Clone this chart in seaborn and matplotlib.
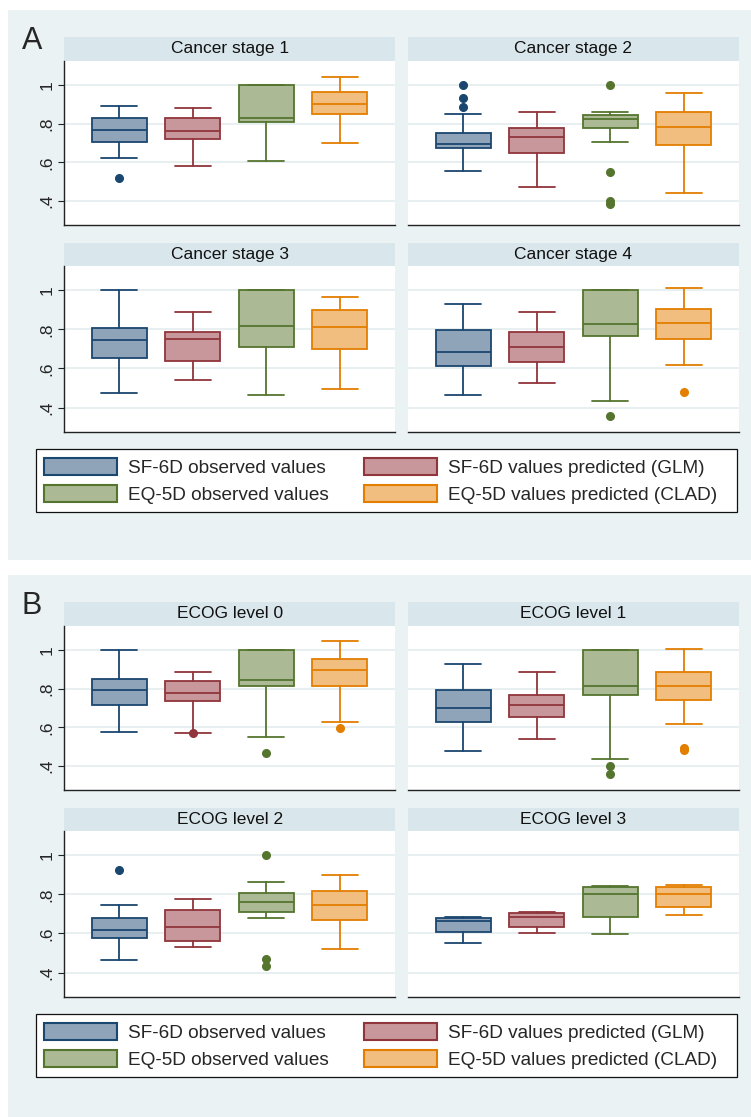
import matplotlib
matplotlib.use("Agg")
import matplotlib.pyplot as plt
import seaborn as sns
from matplotlib.patches import Patch, Rectangle

# series shown in every facet
series = ["SF-6D observed values", "SF-6D values predicted (GLM)",
          "EQ-5D observed values", "EQ-5D values predicted (CLAD)"]

# panel A: cancer stage
a_titles = ["Cancer stage 1", "Cancer stage 2", "Cancer stage 3", "Cancer stage 4"]
a_whislo = [[0.623, 0.583, 0.607, 0.700],
            [0.555, 0.474, 0.708, 0.443],
            [0.475, 0.540, 0.465, 0.496],
            [0.465, 0.527, 0.435, 0.616]]
a_q1 = [[0.704, 0.720, 0.808, 0.848],
        [0.676, 0.649, 0.777, 0.689],
        [0.651, 0.637, 0.710, 0.698],
        [0.613, 0.634, 0.766, 0.749]]
a_med = [[0.766, 0.760, 0.827, 0.900],
         [0.697, 0.730, 0.825, 0.782],
         [0.744, 0.751, 0.817, 0.812],
         [0.686, 0.709, 0.829, 0.834]]
a_q3 = [[0.827, 0.827, 1.000, 0.962],
        [0.754, 0.777, 0.843, 0.860],
        [0.808, 0.789, 1.000, 0.901],
        [0.799, 0.787, 1.000, 0.902]]
a_whishi = [[0.893, 0.881, 1.000, 1.043],
            [0.849, 0.858, 0.858, 0.958],
            [1.000, 0.888, 1.000, 0.965],
            [0.930, 0.888, 1.000, 1.010]]
a_fliers = [[[0.519], [], [], []],
            [[1.000, 0.931, 0.888], [], [1.000, 0.550, 0.401, 0.384], []],
            [[], [], [], []],
            [[], [], [0.356], [0.482]]]

# panel B: ECOG level
b_titles = ["ECOG level 0", "ECOG level 1", "ECOG level 2", "ECOG level 3"]
b_whislo = [[0.576, 0.571, 0.550, 0.626],
            [0.476, 0.542, 0.435, 0.616],
            [0.466, 0.530, 0.680, 0.520],
            [0.553, 0.600, 0.598, 0.694]]
b_q1 = [[0.718, 0.735, 0.815, 0.815],
        [0.630, 0.656, 0.767, 0.742],
        [0.579, 0.562, 0.710, 0.668],
        [0.607, 0.631, 0.682, 0.734]]
b_med = [[0.794, 0.779, 0.844, 0.896],
         [0.701, 0.718, 0.815, 0.815],
         [0.616, 0.635, 0.762, 0.748],
         [0.666, 0.682, 0.800, 0.803]]
b_q3 = [[0.851, 0.841, 1.000, 0.955],
        [0.794, 0.767, 1.000, 0.888],
        [0.678, 0.720, 0.809, 0.817],
        [0.677, 0.706, 0.838, 0.840]]
b_whishi = [[1.000, 0.884, 1.000, 1.047],
            [0.929, 0.888, 1.000, 1.007],
            [0.743, 0.776, 0.861, 0.901],
            [0.683, 0.710, 0.843, 0.850]]
b_fliers = [[[], [0.573], [0.466], [0.599]],
            [[], [], [0.402, 0.360], [0.492, 0.482]],
            [[0.927], [], [1.000, 0.470, 0.433], []],
            [[], [], [], []]]

yticks = [0.4, 0.6, 0.8, 1.0]
ytick_labels = [".4", ".6", ".8", "1"]

edge_cols = ["#1a476f", "#90353b", "#55752f", "#e37e00"]
fill_cols = ["#8fa3b9", "#c8979b", "#abb995", "#f1be7f"]
bg_col = "#eaf2f3"
strip_col = "#d9e6eb"
grid_col = "#e6eef0"

sns.set_theme(style="white")
plt.rcParams["font.family"] = ["Liberation Sans", "DejaVu Sans"]

W, H = 751, 1117
fig = plt.figure(figsize=(W / 100, H / 100), dpi=100)
fig.patch.set_facecolor("white")


def rect(x0, y0, x1, y1):
    return [x0 / W, 1 - y1 / H, (x1 - x0) / W, (y1 - y0) / H]


def draw_panel(top, letter, titles, whislo, q1, med, q3, whishi, fliers, bottom):
    fig.patches.append(Rectangle((8 / W, 1 - bottom / H), (W - 8) / W, (bottom - top) / H,
                                 transform=fig.transFigure, facecolor=bg_col,
                                 edgecolor="none", zorder=-10))
    fig.text(22 / W, 1 - (top + 31) / H, letter, fontsize=22, ha="left", va="center")
    cols = [(64.3, 395), (408, 739)]
    rows = [(top + 26.7, top + 51, top + 215.3), (top + 233.3, top + 256, top + 422)]
    for k in range(4):
        x0, x1 = cols[k % 2]
        s0, p0, p1 = rows[k // 2]
        sax = fig.add_axes(rect(x0, s0, x1, p0 - 0.5))
        sax.set_facecolor(strip_col)
        sax.set_xticks([])
        sax.set_yticks([])
        for sp in sax.spines.values():
            sp.set_visible(False)
        sax.text(0.5, 0.5, titles[k], ha="center", va="center", fontsize=12.5,
                 color="#111111", transform=sax.transAxes)

        ax = fig.add_axes(rect(x0, p0, x1, p1))
        ax.set_facecolor("white")
        for j in range(4):
            stat = dict(whislo=whislo[k][j], q1=q1[k][j], med=med[k][j],
                        q3=q3[k][j], whishi=whishi[k][j], fliers=fliers[k][j])
            ax.bxp([stat], positions=[j + 1], widths=0.75, capwidths=0.49,
                   patch_artist=True, showfliers=True,
                   boxprops=dict(facecolor=fill_cols[j], edgecolor=edge_cols[j], linewidth=1.3),
                   medianprops=dict(color=edge_cols[j], linewidth=1.3),
                   whiskerprops=dict(color=edge_cols[j], linewidth=1.3),
                   capprops=dict(color=edge_cols[j], linewidth=1.3),
                   flierprops=dict(marker="o", markersize=5.5, markerfacecolor=edge_cols[j],
                                   markeredgecolor=edge_cols[j], linestyle="none"))
        ax.set_xlim(0.25, 4.75)
        ax.set_ylim(0.275, 1.124)
        ax.set_xticks([])
        ax.set_yticks(yticks)
        ax.yaxis.grid(True, color=grid_col, linewidth=1.3)
        ax.set_axisbelow(True)
        ax.spines["top"].set_visible(False)
        ax.spines["right"].set_visible(False)
        ax.spines["bottom"].set_color("#222222")
        ax.spines["bottom"].set_linewidth(1.0)
        if k % 2 == 0:
            ax.set_yticklabels(ytick_labels, rotation=90, va="center", fontsize=12.5)
            ax.tick_params(axis="y", left=True, length=4.3, width=0.8, color="#222222", pad=3)
            ax.spines["left"].set_color("#222222")
            ax.spines["left"].set_linewidth(1.0)
        else:
            ax.set_yticklabels([])
            ax.tick_params(axis="y", left=False, length=0)
            ax.spines["left"].set_visible(False)

    # legend: white box with thin black frame, entries filled row by row
    ly0, ly1 = top + 439.3, top + 501.7
    fig.patches.append(Rectangle((36.3 / W, 1 - ly1 / H), 701 / W, (ly1 - ly0) / H,
                                 transform=fig.transFigure, facecolor="white",
                                 edgecolor="#111111", linewidth=0.9, zorder=1))
    order = [0, 2, 1, 3]
    handles = [Patch(facecolor=fill_cols[j], edgecolor=edge_cols[j], linewidth=1.5)
               for j in order]
    labels = [series[j] for j in order]
    leg = fig.legend(handles, labels, ncol=2, loc="upper left",
                     bbox_to_anchor=(44.3 / W, 1 - (top + 448.2) / H),
                     bbox_transform=fig.transFigure, fontsize=13.7, frameon=False,
                     borderpad=0, handlelength=3.8, handleheight=1.0,
                     handletextpad=0.6, labelspacing=0.4, columnspacing=1.87,
                     borderaxespad=0)
    leg.set_zorder(5)


draw_panel(10, "A", a_titles, a_whislo, a_q1, a_med, a_q3, a_whishi, a_fliers, 560)
draw_panel(575, "B", b_titles, b_whislo, b_q1, b_med, b_q3, b_whishi, b_fliers, 1117)

fig.savefig("out.png", dpi=100, facecolor="white")
